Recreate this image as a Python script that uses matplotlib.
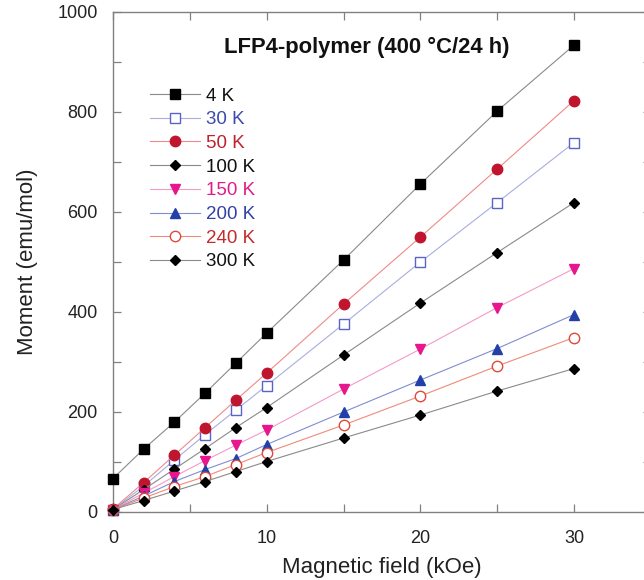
import numpy as np
import matplotlib
matplotlib.use("Agg")
import matplotlib.pyplot as plt

plt.rcParams['font.family'] = ['Liberation Sans', 'DejaVu Sans']

field = [0, 2, 4, 6, 8, 10, 15, 20, 25, 30]

m_4K = [67, 126, 180, 238, 298, 358, 504, 656, 802, 934]
m_30K = [5, 52, 104, 155, 204, 253, 376, 500, 619, 739]
m_50K = [6, 59, 114, 169, 224, 278, 416, 550, 686, 823]
m_100K = [5, 45, 86, 127, 169, 209, 314, 418, 519, 619]
m_150K = [5, 38, 71, 103, 134, 164, 246, 326, 409, 487]
m_200K = [5, 32, 61, 85, 107, 135, 200, 264, 327, 395]
m_240K = [5, 28, 51, 71, 95, 119, 174, 232, 292, 349]
m_300K = [5, 23, 42, 61, 81, 101, 148, 194, 242, 287]

labels = ["4 K", "30 K", "50 K", "100 K", "150 K", "200 K", "240 K", "300 K"]
series = [m_4K, m_30K, m_50K, m_100K, m_150K, m_200K, m_240K, m_300K]

# marker, marker colour, filled?, line colour, text colour, size
styles = [
    ("s", "black", True, "#8a8a8a", "#111111", 7.5),
    ("s", "#5a64c8", False, "#a8aee0", "#3c4aaa", 7),
    ("o", "#c0152f", True, "#f08a8a", "#c0202f", 7.5),
    ("D", "black", True, "#8a8a8a", "#111111", 5.5),
    ("v", "#e8168c", True, "#f49ac8", "#e01c8a", 7),
    ("^", "#2440a8", True, "#7f8ed0", "#3242a4", 7),
    ("o", "#e04a3a", False, "#f08a7a", "#c42a2a", 7.5),
    ("D", "black", True, "#8a8a8a", "#111111", 5.5),
]

fig = plt.figure(figsize=(6.44, 5.8), dpi=100)
ax = fig.add_axes([113 / 644, 68 / 580, 538 / 644, 500 / 580])

handles = []
for vals, lab, (mk, mc, filled, lc, tc, ms) in zip(series, labels, styles):
    h, = ax.plot(field, vals, color=lc, lw=0.8, marker=mk, markersize=ms,
                 markeredgecolor=mc, markerfacecolor=mc if filled else "white",
                 markeredgewidth=1.0, label=lab, clip_on=False, zorder=3)
    handles.append(h)

ax.set_xlim(0, 35)
ax.set_ylim(0, 1000)
ax.set_xticks([0, 10, 20, 30])
ax.set_xticks([5, 15, 25, 35], minor=True)
ax.set_yticks([0, 200, 400, 600, 800, 1000])
ax.set_yticks([100, 300, 500, 700, 900], minor=True)
ax.tick_params(which="both", direction="in", top=True, right=True,
               color="#808080", labelsize=13, labelcolor="#222222")
ax.tick_params(axis="y", pad=11)
ax.tick_params(axis="x", pad=13)
ax.tick_params(which="major", length=6, width=0.9)
ax.tick_params(which="minor", length=6, width=0.9)
for s in ax.spines.values():
    s.set_color("#808080")
    s.set_linewidth(1.0)

ax.set_xlabel("Magnetic field (kOe)", fontsize=16, color="#222222", labelpad=7)
ax.set_ylabel("Moment (emu/mol)", fontsize=16, color="#222222", labelpad=14)

ax.text(0.472, 0.93, "LFP4-polymer (400 °C/24 h)", transform=ax.transAxes,
        ha="center", va="center", fontsize=15.8, fontweight="bold", color="#111111")

leg = ax.legend(handles=handles, loc="upper left", bbox_to_anchor=(0.068, 0.849),
                frameon=False, fontsize=13.5, handlelength=2.7, handletextpad=0.3,
                labelspacing=0.35, borderaxespad=0, borderpad=0)
for txt, st in zip(leg.get_texts(), styles):
    txt.set_color(st[4])

fig.savefig("out.png", dpi=100)
